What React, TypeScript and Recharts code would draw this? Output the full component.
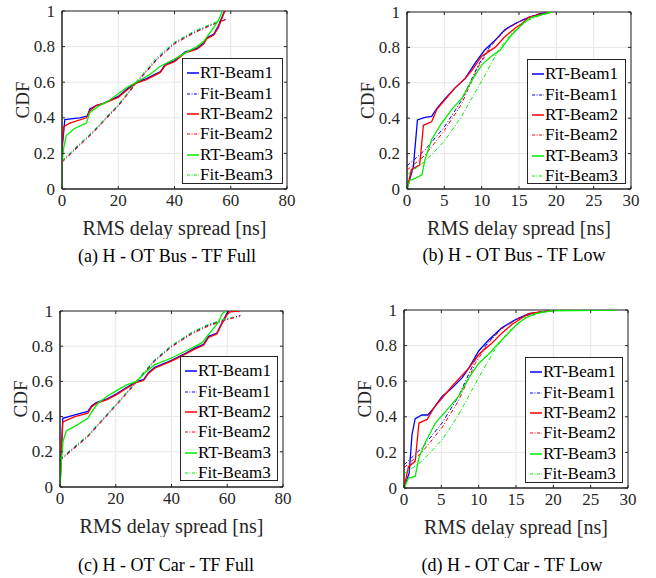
import React from 'react';
import { LineChart, Line, XAxis, YAxis, CartesianGrid, ReferenceArea, Legend, Label } from 'recharts';

type Pt = [number, number];

// ---------- Panel (a) H - OT Bus - TF Full ----------
const aRT1: Pt[] = [[0,0],[0,0.22],[1,0.39],[6.3,0.40],[9,0.41],[9.9,0.45],[12.3,0.47],[14.6,0.48],[20,0.52],[23,0.56],[26.5,0.60],[30,0.62],[35,0.66],[36.7,0.70],[40,0.72],[43.8,0.77],[48,0.79],[50.4,0.82],[51.5,0.85],[54,0.87],[55.7,0.92],[57.5,0.99],[58,1]];
const aFit1: Pt[] = [[0,0.155],[6.3,0.25],[11,0.32],[20,0.47],[26.5,0.60],[33.7,0.73],[40,0.82],[46.8,0.88],[52.7,0.92],[58.3,0.953]];
const aRT2: Pt[] = [[0,0],[0,0.23],[0.6,0.35],[2.7,0.37],[8.7,0.40],[9.9,0.44],[12.3,0.47],[14.6,0.48],[20,0.515],[23,0.555],[26.5,0.595],[30,0.615],[35,0.655],[36.7,0.695],[40,0.715],[43.8,0.765],[48,0.785],[50.4,0.815],[51.5,0.845],[54,0.865],[55.7,0.91],[57.5,0.985],[58,1]];
const aFit2: Pt[] = [[0,0.15],[6.3,0.245],[11,0.315],[20,0.465],[26.5,0.595],[33.7,0.725],[40,0.815],[46.8,0.875],[52.7,0.918],[58.3,0.952]];
const aRT3: Pt[] = [[0,0],[0,0.15],[0.6,0.23],[1.5,0.30],[4.5,0.34],[8.7,0.37],[9.9,0.43],[13.5,0.47],[17,0.50],[23,0.57],[26.5,0.60],[31.3,0.645],[35,0.69],[40,0.73],[44.4,0.77],[48,0.80],[50.4,0.83],[52,0.865],[54,0.91],[55.7,0.95],[57,1]];
const aFit3: Pt[] = [[0,0.16],[6.3,0.255],[11,0.325],[20,0.475],[26.5,0.605],[33.7,0.74],[40,0.825],[46.8,0.885],[52.7,0.925],[56,0.945]];

// ---------- Panel (b) H - OT Bus - TF Low ----------
const bRT1: Pt[] = [[0,0],[0.85,0.126],[1.4,0.39],[2.4,0.405],[3.3,0.41],[4,0.455],[5.1,0.51],[6.4,0.57],[7.8,0.625],[9.1,0.71],[10.4,0.785],[11.8,0.84],[13.1,0.90],[14.5,0.935],[16.3,0.97],[18.4,0.995],[19.4,1]];
const bFit1: Pt[] = [[0,0.13],[2.4,0.22],[5,0.35],[7.3,0.50],[9.55,0.70],[11.3,0.82],[13.1,0.90],[15.4,0.955],[17.6,0.99],[19.4,1]];
const bRT2: Pt[] = [[0,0],[0.6,0.11],[1.7,0.135],[2.2,0.36],[3.3,0.38],[4,0.45],[6.4,0.57],[7.8,0.625],[8.7,0.67],[10,0.75],[11.8,0.80],[13.1,0.86],[14.5,0.91],[15.4,0.935],[16.3,0.97],[18.4,0.99],[19.4,1]];
const bFit2: Pt[] = [[0,0.107],[2.4,0.19],[5,0.33],[7.3,0.48],[9.55,0.69],[11.3,0.81],[13.1,0.895],[15.4,0.955],[17.6,0.99],[19.4,1]];
const bRT3: Pt[] = [[0,0],[0.4,0.05],[1.1,0.06],[2,0.08],[2.4,0.165],[3.3,0.28],[4.6,0.37],[6,0.45],[7.3,0.51],[8.7,0.615],[10,0.70],[11.3,0.75],[12.5,0.785],[13.1,0.82],[14,0.87],[15.1,0.917],[15.8,0.945],[16.7,0.97],[19.4,1]];
const bFit3: Pt[] = [[0,0.08],[2.4,0.155],[5,0.27],[7.3,0.41],[10,0.61],[12.2,0.78],[14,0.88],[16.3,0.955],[18.4,0.99],[19.4,1]];

// ---------- Panel (c) H - OT Car - TF Full ----------
const cRT1: Pt[] = [[0,0],[0.5,0.2],[1,0.39],[5.3,0.41],[10,0.43],[11.3,0.46],[13,0.48],[16.7,0.50],[20.3,0.53],[23.3,0.56],[27.5,0.60],[30,0.61],[31.7,0.65],[34,0.68],[40,0.72],[45,0.76],[48.5,0.79],[51.5,0.81],[53.3,0.856],[56.3,0.875],[58,0.93],[60,0.99],[60.5,1]];
const cFit1: Pt[] = [[0,0.155],[10,0.29],[20.3,0.47],[27.5,0.60],[34,0.72],[40,0.80],[47.3,0.875],[53.3,0.92],[59.3,0.95],[64.7,0.975]];
const cRT2: Pt[] = [[0,0],[0.5,0.2],[1,0.37],[5.3,0.40],[10,0.42],[11.3,0.455],[13,0.475],[16.7,0.495],[20.3,0.525],[23.3,0.555],[27.5,0.595],[30,0.605],[31.7,0.645],[34,0.675],[40,0.715],[45,0.755],[48.5,0.785],[51.5,0.805],[53.3,0.85],[56.3,0.87],[58,0.925],[60,0.98],[61,0.995],[64.5,1]];
const cFit2: Pt[] = [[0,0.15],[10,0.285],[20.3,0.465],[27.5,0.595],[34,0.715],[40,0.795],[47.3,0.87],[53.3,0.915],[59.3,0.948],[64.7,0.972]];
const cRT3: Pt[] = [[0,0],[0.5,0.146],[1.1,0.26],[2.3,0.32],[5.9,0.35],[10,0.39],[11.9,0.44],[13.7,0.477],[17.3,0.52],[20.9,0.553],[23.9,0.58],[27.5,0.60],[31,0.657],[34,0.695],[40,0.733],[46,0.78],[51,0.82],[52.7,0.856],[55,0.90],[57,0.94],[58,0.98],[59.3,1]];
const cFit3: Pt[] = [[0,0.16],[10,0.295],[20.3,0.475],[27.5,0.605],[34,0.725],[40,0.805],[47.3,0.88],[53.3,0.925],[59.3,0.955],[62,0.965]];

// ---------- Panel (d) H - OT Car - TF Low ----------
const dRT1: Pt[] = [[0,0],[0.7,0.085],[1.07,0.30],[1.5,0.39],[2.4,0.41],[3.2,0.41],[4,0.45],[5.1,0.515],[6.4,0.56],[7.8,0.62],[8.7,0.675],[10,0.77],[11.3,0.83],[13.1,0.90],[14.9,0.945],[16.7,0.98],[18.5,0.99],[19.8,0.998],[28.3,1]];
const dFit1: Pt[] = [[0,0.13],[2.4,0.225],[5.1,0.365],[7.3,0.515],[9.55,0.72],[11.3,0.82],[13.1,0.90],[15.4,0.955],[17.6,0.985],[20.3,0.998],[28.3,1]];
const dRT2: Pt[] = [[0,0],[0.6,0.12],[1.5,0.15],[2,0.365],[3.1,0.385],[4,0.45],[6.4,0.57],[8.7,0.675],[10,0.75],[11.8,0.815],[13.1,0.87],[14.5,0.92],[15.8,0.955],[16.7,0.98],[19.8,0.998],[28.3,1]];
const dFit2: Pt[] = [[0,0.115],[2.4,0.20],[5.1,0.34],[7.3,0.49],[9.55,0.70],[11.3,0.815],[13.1,0.895],[15.4,0.955],[17.6,0.985],[20.3,0.998],[28.3,1]];
const dRT3: Pt[] = [[0,0],[0.6,0.056],[1.5,0.065],[2,0.17],[2.9,0.26],[4.2,0.365],[6,0.45],[7.3,0.515],[8.7,0.62],[10,0.70],[11.3,0.75],[12.7,0.815],[14,0.87],[15.1,0.92],[16.25,0.955],[17.6,0.98],[19.8,0.995],[28.3,1]];
const dFit3: Pt[] = [[0,0.08],[2.4,0.15],[5.1,0.27],[7.3,0.41],[10,0.62],[12.2,0.78],[14,0.88],[16.3,0.955],[18.5,0.99],[20.3,0.998],[28.3,1]];

// ---------- Axes / labels ----------
const yTicks = [0, 0.2, 0.4, 0.6, 0.8, 1];
const xTicksFull = [0, 20, 40, 60, 80];
const xTicksLow = [0, 5, 10, 15, 20, 25, 30];
const seriesNames = ['RT-Beam1', 'Fit-Beam1', 'RT-Beam2', 'Fit-Beam2', 'RT-Beam3', 'Fit-Beam3'];
const captions = ['(a) H - OT Bus - TF Full', '(b) H - OT Bus - TF Low', '(c) H - OT Car - TF Full', '(d) H - OT Car - TF Low'];
const xTitle = 'RMS delay spread [ns]';
const yTitle = 'CDF';

const COLORS = ['#0000ff', '#0000ff', '#ff0000', '#ff0000', '#00ee00', '#00ee00'];
const FONT = '"Liberation Serif", serif';
const AX = '#262626';
const TXT: React.CSSProperties = { fontFamily: FONT };

const toObj = (pts: Pt[]) => pts.map(([x, y]) => ({ x, y }));

interface PanelProps {
  plotLeft: number; plotTop: number; plotW: number; plotH: number;
  xMax: number; xTicks: number[]; series: Pt[][];
  legend: { left: number; top: number; w: number; h: number };
  caption: string; capX: number; capY: number;
}

const Y_AXIS_W = 62;
const TOP_M = 11;
const X_AXIS_H = 50;
const RIGHT_M = 10;

const makeXTick = (plotH: number) => (props: any) => {
  const { x, y, payload } = props;
  return (
    <g>
      <line x1={x} y1={y} x2={x} y2={y - 3} stroke={AX} strokeWidth={1} />
      <line x1={x} y1={y - plotH} x2={x} y2={y - plotH + 3} stroke={AX} strokeWidth={1} />
      <text x={x} y={y + 5} dy={12} textAnchor="middle" fontSize={17} fill={AX} style={TXT}>{String(payload.value)}</text>
    </g>
  );
};
const makeYTick = (plotW: number) => (props: any) => {
  const { x, y, payload } = props;
  return (
    <g>
      <line x1={x} y1={y} x2={x + 3} y2={y} stroke={AX} strokeWidth={1} />
      <line x1={x + plotW} y1={y} x2={x + plotW - 3} y2={y} stroke={AX} strokeWidth={1} />
      <text x={x - 7} y={y} dy={5.5} textAnchor="end" fontSize={17} fill={AX} style={TXT}>{String(payload.value)}</text>
    </g>
  );
};

function LegendBox({ w, h }: { w: number; h: number }) {
  return (
    <div style={{ width: w, height: h, boxSizing: 'border-box', border: `1px solid ${AX}`, background: '#fff', paddingTop: 4, fontFamily: FONT, fontSize: 17, color: '#000' }}>
      {seriesNames.map((n, i) => {
        const fit = i % 2 === 1;
        return (
          <div key={n} style={{ height: 20.4, display: 'flex', alignItems: 'center', whiteSpace: 'nowrap' }}>
            <svg width={12} height={10} style={{ marginLeft: 4, marginRight: 1, flex: 'none' }}>
              <line x1={0} y1={5} x2={12} y2={5} stroke={COLORS[i]} strokeWidth={fit ? 1 : 1.5} strokeDasharray={fit ? '3 1.5 1 1.5' : undefined} />
            </svg>
            <span style={{ lineHeight: '20px', fontFamily: FONT }}>{n}</span>
          </div>
        );
      })}
    </div>
  );
}

function Panel(p: PanelProps) {
  const originX = p.plotLeft - Y_AXIS_W;
  const originY = p.plotTop - TOP_M;
  const width = p.plotW + Y_AXIS_W + RIGHT_M;
  const height = p.plotH + TOP_M + X_AXIS_H;
  const XTick = makeXTick(p.plotH);
  const YTick = makeYTick(p.plotW);
  return (
    <>
      <div style={{ position: 'absolute', left: originX, top: originY, width, height }}>
        <LineChart width={width} height={height} margin={{ top: TOP_M, right: RIGHT_M, left: 0, bottom: 0 }} style={TXT}>
          <CartesianGrid stroke="#e6e6e6" strokeWidth={1} />
          <XAxis dataKey="x" type="number" domain={[0, p.xMax]} ticks={p.xTicks} allowDataOverflow height={X_AXIS_H}
            tickSize={0} tickMargin={0} axisLine={{ stroke: AX }} tickLine={false} interval={0} tick={XTick}>
            <Label content={(lp: any) => {
              const vb = lp.viewBox || {};
              return <text x={vb.x + vb.width / 2} y={vb.y + 39} textAnchor="middle" dominantBaseline="central" fontSize={20} fill={AX} style={TXT}>{xTitle}</text>;
            }} />
          </XAxis>
          <YAxis type="number" domain={[0, 1]} ticks={yTicks} allowDataOverflow width={Y_AXIS_W}
            tickSize={0} tickMargin={0} axisLine={{ stroke: AX }} tickLine={false} interval={0} tick={YTick}>
            <Label content={(lp: any) => {
              const vb = lp.viewBox || {};
              const cx = vb.x + vb.width - 40;
              const cy = vb.y + vb.height / 2;
              return <text x={cx} y={cy} transform={`rotate(-90, ${cx}, ${cy})`} textAnchor="middle" dominantBaseline="central" fontSize={19} fill={AX} style={TXT}>{yTitle}</text>;
            }} />
          </YAxis>
          {p.series.map((s, i) => (
            <Line key={seriesNames[i]} name={seriesNames[i]} data={toObj(s)} dataKey="y" type="linear"
              stroke={COLORS[i]} strokeWidth={i % 2 === 1 ? 1 : 1.3}
              strokeDasharray={i % 2 === 1 ? '4 2 1 2' : undefined}
              dot={false} activeDot={false} isAnimationActive={false} />
          ))}
          <ReferenceArea x1={0} x2={p.xMax} y1={0} y2={1} fill="none" stroke={AX} strokeWidth={1} fillOpacity={0} />
          <Legend layout="vertical" align="center" verticalAlign="middle"
            wrapperStyle={{ left: p.legend.left - originX, top: p.legend.top - originY, width: p.legend.w, height: p.legend.h, right: 'auto', bottom: 'auto', margin: 0 }}
            content={() => <LegendBox w={p.legend.w} h={p.legend.h} />} />
        </LineChart>
      </div>
      <div style={{ position: 'absolute', left: p.capX - 160, top: p.capY - 11, width: 320, height: 22, lineHeight: '22px', textAlign: 'center', fontFamily: FONT, fontSize: 18, color: '#000', whiteSpace: 'nowrap' }}>
        {p.caption}
      </div>
    </>
  );
}

export default function App() {
  return (
    <div style={{ position: 'absolute', left: 0, top: 0, width: 656, height: 578, background: '#fff', overflow: 'hidden', fontFamily: FONT }}>
      <Panel plotLeft={62} plotTop={11} plotW={225} plotH={178} xMax={80} xTicks={xTicksFull}
        series={[aRT1, aFit1, aRT2, aFit2, aRT3, aFit3]}
        legend={{ left: 182, top: 58, w: 101, h: 126 }} caption={captions[0]} capX={167} capY={256} />
      <Panel plotLeft={407} plotTop={12} plotW={224} plotH={177} xMax={30} xTicks={xTicksLow}
        series={[bRT1, bFit1, bRT2, bFit2, bRT3, bFit3]}
        legend={{ left: 527, top: 59, w: 99, h: 125 }} caption={captions[1]} capX={514} capY={255} />
      <Panel plotLeft={60} plotTop={311} plotW={223} plotH={176} xMax={80} xTicks={xTicksFull}
        series={[cRT1, cFit1, cRT2, cFit2, cRT3, cFit3]}
        legend={{ left: 180, top: 356, w: 98, h: 125 }} caption={captions[2]} capX={166} capY={565} />
      <Panel plotLeft={404} plotTop={310} plotW={224} plotH={178} xMax={30} xTicks={xTicksLow}
        series={[dRT1, dFit1, dRT2, dFit2, dRT3, dFit3]}
        legend={{ left: 525, top: 357, w: 98, h: 126 }} caption={captions[3]} capX={512} capY={565} />
    </div>
  );
}
